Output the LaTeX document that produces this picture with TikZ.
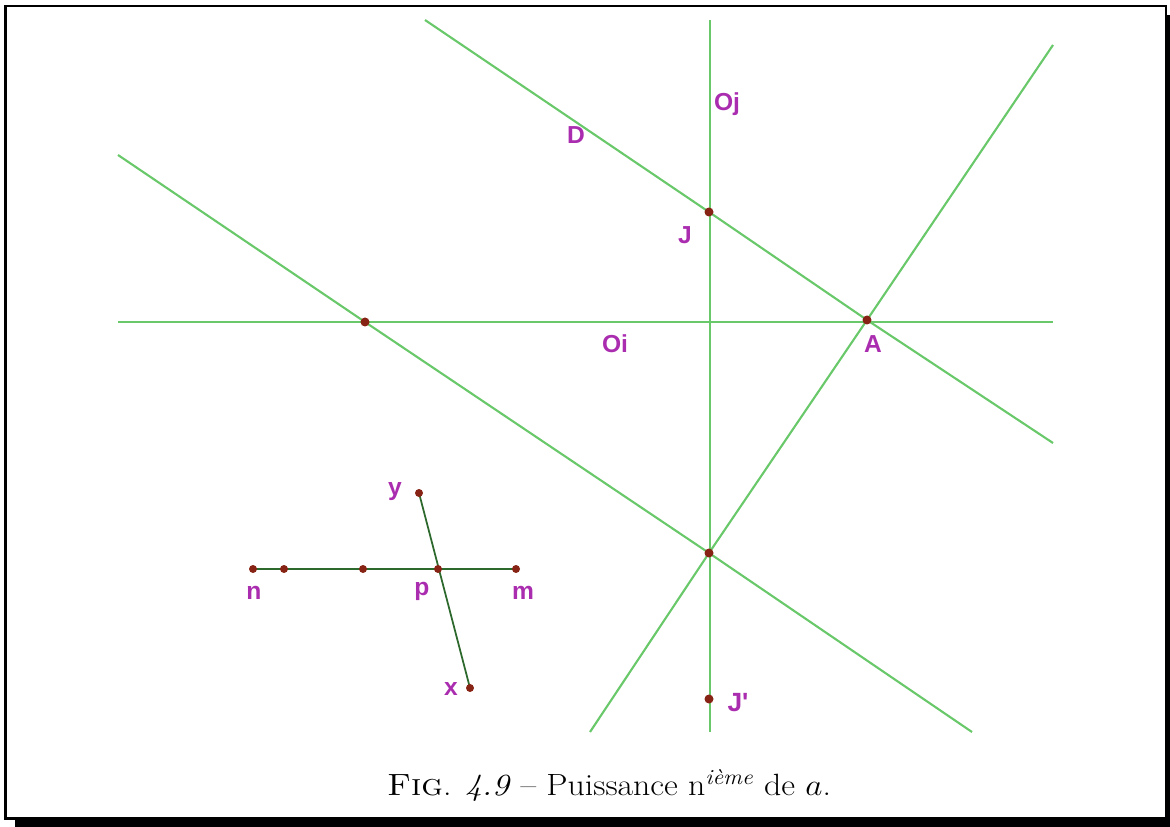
\documentclass[tikz,border=0pt]{standalone}
\usepackage{fontspec}
\newfontfamily\labelfont{Liberation Sans}
\definecolor{linegreen}{RGB}{105,200,105}
\definecolor{segmentgreen}{RGB}{45,105,45}
\definecolor{dotbrown}{RGB}{135,35,20}
\definecolor{labelmagenta}{RGB}{170,45,175}
\tikzset{
  axis/.style={linegreen, line width=1.2pt},
  segment/.style={segmentgreen, line width=1pt},
  dot/.style={fill=dotbrown},
  lab/.style={text=labelmagenta, inner sep=0pt, font=\labelfont\bfseries\fontsize{14}{14}\selectfont}
}
\begin{document}
\begin{tikzpicture}[x=0.02cm, y=-0.02cm]
  \useasboundingbox (0,0) rectangle (1170,827);
  % Frame with shadow
  \fill[black] (1166,15) rectangle (1170,827);
  \fill[black] (15,818) rectangle (1170,827);
  \draw[line width=1.4pt] (5.5,6) rectangle (1166,818.5);
  % Points
  \coordinate (J) at (709,212);
  \coordinate (A) at (867,320);
  \coordinate (I) at (365,322);
  \coordinate (K) at (709,553);
  \coordinate (Jp) at (709,699);
  % Axes
  \coordinate (Oiw) at (118,322); \coordinate (Oie) at (1053,322);
  \coordinate (Ojn) at (710,20);  \coordinate (Ojs) at (710,732);
  \draw[axis] (Oiw) -- (Oie);
  \draw[axis] (Ojn) -- (Ojs);
  % Line D and its parallel
  \coordinate (Dn) at (425,20);  \coordinate (Ds) at (1053,443);
  \coordinate (Pn) at (118,155); \coordinate (Ps) at (972,732);
  \draw[axis] (Dn) -- (J) -- (A) -- (Ds);
  \draw[axis] (Pn) -- (I) -- (K) -- (Ps);
  % Line through A
  \coordinate (Ln) at (1053,45); \coordinate (Ls) at (590,732);
  \draw[axis] (Ln) -- (A) -- (K) -- (Ls);
  \foreach \p in {J,A,I,K,Jp} { \fill[dot] (\p) circle (4.5); }
  % Labels
  \node[lab] (labOj) at (727,104) {Oj};
  \node[lab] (labD) at (576,135) {D};
  \node[lab] (labJ) at (685,235) {J};
  \node[lab] (labOi) at (615,344) {Oi};
  \node[lab] (labA) at (873,344) {A};
  \node[lab, font=\labelfont\bfseries\fontsize{15}{15}\selectfont] (labJp) at (738,703) {J'};
  % Small figure
  \coordinate (n) at (253,569);
  \coordinate (n1) at (284,569);
  \coordinate (n2) at (363,569);
  \coordinate (p) at (438,569);
  \coordinate (m) at (516,569);
  \coordinate (y) at (419,493);
  \coordinate (x) at (470,688);
  \draw[segment] (n) -- (m);
  \draw[segment] (y) -- (x);
  \foreach \p in {n,n1,n2,p,m,y,x} { \fill[dot] (\p) circle (4); }
  \node[lab] (labn) at (254,593) {n};
  \node[lab] (labp) at (422,591) {p};
  \node[lab] (labm) at (523,593) {m};
  \node[lab] (laby) at (395,492) {y};
  \node[lab] (labx) at (451,689) {x};
  % Caption
  \node[font=\fontsize{17.5}{20}\selectfont, xscale=1.1] (caption) at (609,785)
    {\textsc{Fig}. \textit{4.9} -- Puissance n\textsuperscript{\textit{ième}} de $a$.};
\end{tikzpicture}
\end{document}
